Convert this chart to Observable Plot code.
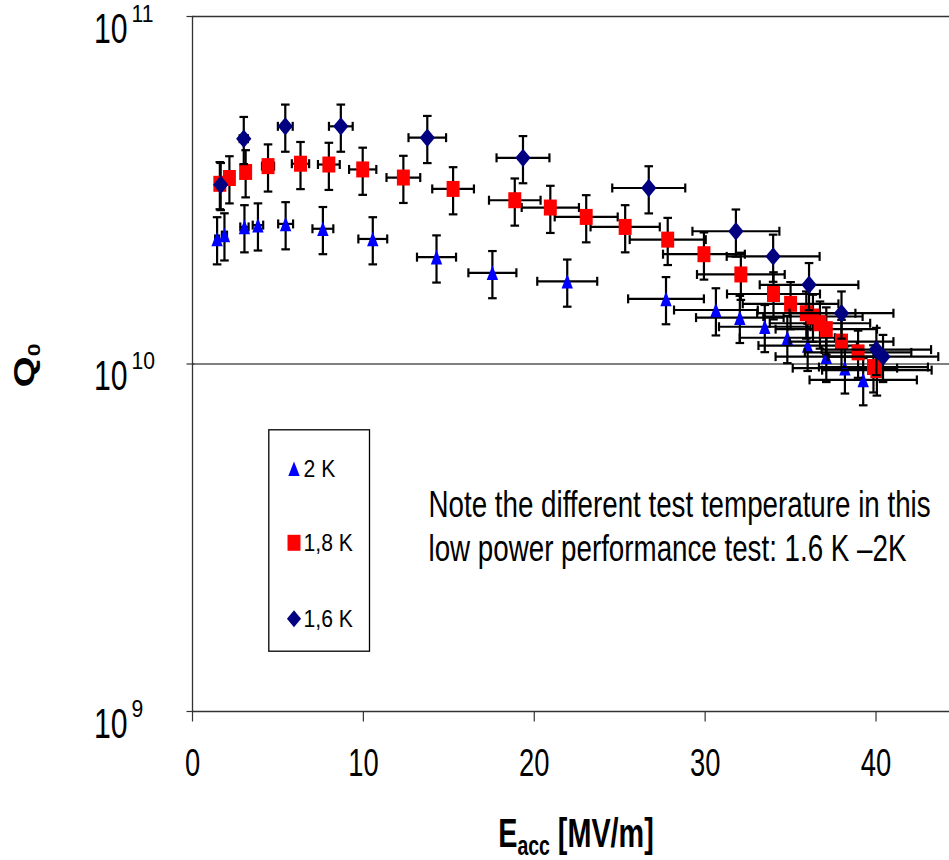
<!DOCTYPE html>
<html><head><meta charset="utf-8">
<script src="https://cdn.jsdelivr.net/npm/d3@7"></script>
<script src="https://cdn.jsdelivr.net/npm/@observablehq/plot@0.6"></script>
<style>body{margin:0;background:#fff}</style>
</head><body>
<div id="chart"></div>
<script>
// ---- data ----
const series = ["2 K", "1,8 K", "1,6 K"];
const eacc2K = [1.44, 1.87, 3.04, 3.83, 5.45, 7.63, 10.55, 14.28, 17.55, 21.93, 27.71, 30.63, 32.03, 33.49, 34.81, 36.0, 37.09, 38.18, 39.25];
const q2K    = [2.29e10, 2.35e10, 2.48e10, 2.51e10, 2.53e10, 2.45e10, 2.29e10, 2.03e10, 1.83e10, 1.73e10, 1.54e10, 1.43e10, 1.36e10, 1.28e10, 1.19e10, 1.13e10, 1.05e10, 9.73e9, 9.0e9];
const eacc18K = [1.6, 2.16, 3.11, 4.42, 6.32, 7.98, 9.96, 12.34, 15.25, 18.86, 20.94, 23.04, 25.32, 27.81, 29.93, 32.09, 34.0, 35.0, 35.92, 36.31, 36.72, 37.09, 37.98, 38.95, 39.85, 40.05];
const q18K    = [3.3e10, 3.43e10, 3.57e10, 3.71e10, 3.77e10, 3.75e10, 3.63e10, 3.44e10, 3.19e10, 2.96e10, 2.82e10, 2.65e10, 2.48e10, 2.28e10, 2.07e10, 1.81e10, 1.59e10, 1.49e10, 1.40e10, 1.37e10, 1.31e10, 1.26e10, 1.16e10, 1.08e10, 9.8e9, 9.6e9];
const eacc16K = [1.65, 3.0, 5.43, 8.68, 13.74, 19.34, 26.7, 31.8, 33.98, 36.08, 37.98, 40.02, 40.41];
const q16K    = [3.28e10, 4.45e10, 4.83e10, 4.83e10, 4.48e10, 3.92e10, 3.21e10, 2.41e10, 2.04e10, 1.69e10, 1.40e10, 1.10e10, 1.05e10];
const relErrE = 0.08;   // relative horizontal error bar
const relErrQ = 0.155;  // relative vertical error bar

const xTicks = [0, 10, 20, 30, 40];
const xTickLabels = ["0", "10", "20", "30", "40"];
const yTicks = [1e9, 1e10, 1e11];
const yTickBase = ["10", "10", "10"];
const yTickExp = ["9", "10", "11"];
const xLabel = "Eacc [MV/m]";
const yLabel = "Q0";
const noteLines = ["Note the different test temperature in this", "low power performance test: 1.6 K \u20132K"];

// ---- helpers ----
const table = (xs, qs) => xs.map((x, i) => ({x, q: qs[i]}));
const d2K = table(eacc2K, q2K), d18K = table(eacc18K, q18K), d16K = table(eacc16K, q16K);

const sym = (fn) => ({draw(ctx, size) { fn(ctx, Math.sqrt(size / Math.PI)); }});
const triangle = sym((c, r) => { const w = 0.78 * r; c.moveTo(0, -r); c.lineTo(w, r); c.lineTo(-w, r); c.closePath(); });
const square = sym((c, r) => { const w = 0.81 * r; c.moveTo(-w, -r); c.lineTo(w, -r); c.lineTo(w, r); c.lineTo(-w, r); c.closePath(); });
const diamond = sym((c, r) => { const w = 0.83 * r; c.moveTo(0, -r); c.lineTo(w, 0); c.lineTo(0, r); c.lineTo(-w, 0); c.closePath(); });
const hCap = sym((c, r) => { c.moveTo(-r, 0); c.lineTo(r, 0); });
const vCap = sym((c, r) => { c.moveTo(0, -r); c.lineTo(0, r); });
const xTickSym = sym((c, r) => { c.moveTo(0, 0); c.lineTo(0, r); });
const yTickSym = sym((c, r) => { c.moveTo(-r, 0); c.lineTo(r * 0.3, 0); });

const colors = ["#0000FF", "#FF0000", "#000080"];
const symbols = [triangle, square, diamond];
const sizes = [7.3, 8, 9.2];

function seriesMarks(data, k) {
  const bar = {stroke: "black", strokeWidth: 2.2};
  const lo = d => d.q * (1 - relErrQ), hi = d => d.q * (1 + relErrQ);
  const xl = d => d.x * (1 - relErrE), xh = d => d.x * (1 + relErrE);
  return [
    Plot.ruleY(data, {y: "q", x1: xl, x2: xh, ...bar}),
    Plot.ruleX(data, {x: "x", y1: lo, y2: hi, ...bar}),
    Plot.dot(data, {x: xl, y: "q", symbol: vCap, r: 4.5, fill: "none", ...bar}),
    Plot.dot(data, {x: xh, y: "q", symbol: vCap, r: 4.5, fill: "none", ...bar}),
    Plot.dot(data, {x: "x", y: lo, symbol: hCap, r: 4.3, fill: "none", ...bar}),
    Plot.dot(data, {x: "x", y: hi, symbol: hCap, r: 4.3, fill: "none", ...bar}),
    Plot.dot(data, {x: "x", y: "q", symbol: symbols[k], r: sizes[k], fill: colors[k], stroke: "none"})
  ];
}

const legendDy = [452.3, 526.3, 602.3];
const legendMarks = series.flatMap((s, k) => [
  Plot.dot([s], {frameAnchor: "top-left", dx: 101.5, dy: legendDy[k], symbol: symbols[k], r: k === 2 ? 8.5 : sizes[k], fill: colors[k], stroke: "none"}),
  Plot.text([s], {frameAnchor: "top-left", dx: 111, dy: legendDy[k] + 1, text: d => d, textAnchor: "start", lineAnchor: "middle", fontSize: 23})
]);

const axisColor = "#333";
const chart = Plot.plot({
  width: 949, height: 860,
  marginLeft: 192, marginRight: 0, marginTop: 16, marginBottom: 149,
  x: {domain: [0, 44.3], axis: null},
  y: {type: "log", domain: [1e9, 1e11], axis: null},
  style: {fontFamily: "Liberation Sans, Arial, sans-serif", background: "white", color: "black"},
  marks: [
    Plot.ruleY([1e10], {stroke: "black", strokeWidth: 1}),
    Plot.ruleY([1e11], {stroke: axisColor, strokeWidth: 1.5}),
    Plot.ruleY([1e9], {stroke: axisColor, strokeWidth: 1.3}),
    Plot.ruleX([0], {stroke: axisColor, strokeWidth: 1.3}),
    Plot.dot(xTicks, {x: d => d, y: () => 1e9, symbol: xTickSym, r: 10, stroke: axisColor, strokeWidth: 1.2, fill: "none"}),
    Plot.dot(yTicks, {x: () => 0, y: d => d, symbol: yTickSym, r: 6, stroke: axisColor, strokeWidth: 1.2, fill: "none"}),
    ...seriesMarks(d2K, 0),
    ...seriesMarks(d18K, 1),
    ...seriesMarks(d16K, 2),
    Plot.frame({insetLeft: 76.3, insetTop: 413.3, insetRight: 580, insetBottom: 60.3, stroke: "black", strokeWidth: 1.3}),
    ...legendMarks,
    Plot.text(xTicks, {x: d => d, y: () => 1e9, text: (d, i) => xTickLabels[i], dy: 52, fontSize: 38}),
    Plot.text(yTicks, {x: () => 0, y: d => d, text: (d, i) => yTickBase[i], textAnchor: "end", dx: -65, dy: 13, fontSize: 42}),
    Plot.text(yTicks, {x: () => 0, y: d => d, text: (d, i) => yTickExp[i], textAnchor: "start", dx: -61, dy: -2, fontSize: 23}),
    Plot.text([noteLines.join("\n")], {frameAnchor: "top-left", dx: 236, dy: 470, text: d => d, textAnchor: "start", lineAnchor: "top", lineHeight: 1.17, fontSize: 37}),
    Plot.text([xLabel], {frameAnchor: "bottom", dx: 5, dy: 123, text: d => d, textAnchor: "middle", lineAnchor: "middle", fontSize: 40, fontWeight: "bold"}),
    Plot.text([yLabel], {frameAnchor: "left", dx: -168, dy: 1.5, text: d => d, textAnchor: "middle", lineAnchor: "middle", rotate: -90, fontSize: 40, fontWeight: "bold"})
  ]
});
document.getElementById("chart").appendChild(chart);

// ---- rich text (subscripts) ----
const NS = "http://www.w3.org/2000/svg";
function rich(el, parts) {
  el.textContent = "";
  for (const [t, o = {}] of parts) {
    const ts = document.createElementNS(NS, "tspan");
    ts.textContent = t;
    if (o.size) ts.setAttribute("font-size", o.size);
    if (o.dy) ts.setAttribute("dy", o.dy);
    el.appendChild(ts);
  }
}
d3.select(chart).selectAll("text").each(function () {
  if (this.textContent === xLabel) rich(this, [["E"], ["acc", {size: 27, dy: 8}], [" [MV/m]", {dy: -8}]]);
  else if (this.textContent === yLabel) rich(this, [["Q"], ["0", {size: 23, dy: 9}]]);
});

// ---- narrow lettering as in the reference ----
d3.select(chart).selectAll("text").each(function () {
  const fs = parseFloat(getComputedStyle(this).fontSize);
  const s = fs >= 36 && fs <= 37 ? 0.75 : fs >= 30 ? 0.72 : 0.92;
  const t = this.getAttribute("transform") || "";
  if (/rotate/.test(t)) this.setAttribute("transform", `${t} scale(1,${s})`);
  else {
    const x = parseFloat(this.getAttribute("x")) || 0;
    this.setAttribute("transform", `${t} translate(${x},0) scale(${s},1) translate(${-x},0)`);
  }
});
</script>
</body></html>
